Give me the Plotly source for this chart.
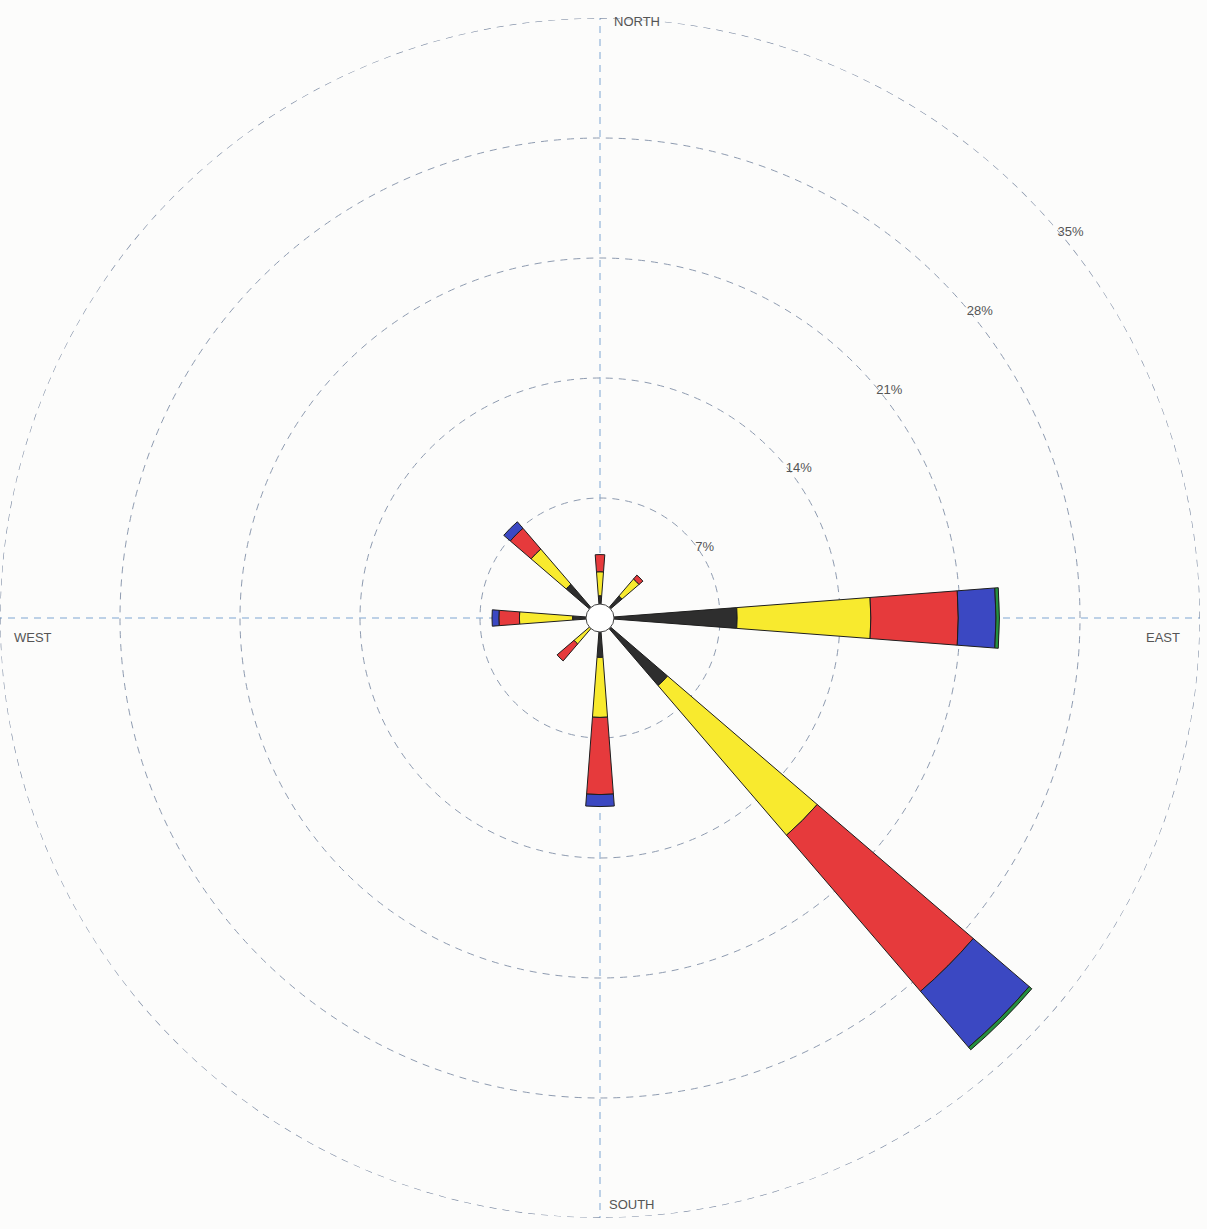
import plotly.graph_objects as go

directions = [0, 45, 90, 135, 180, 225, 270, 315]
bins = ["black", "yellow", "red", "blue", "green"]
black = [1.3, 1.7, 8.0, 5.2, 2.3, 0.8, 1.6, 2.6]
yellow = [1.4, 1.3, 7.8, 11.5, 3.5, 1.2, 3.1, 2.7]
red = [1.0, 0.3, 5.1, 12.0, 4.5, 1.3, 1.2, 1.6]
blue = [0, 0, 2.2, 4.3, 0.7, 0, 0.4, 0.5]
green = [0, 0, 0.2, 0.2, 0, 0, 0, 0]
series = [black, yellow, red, blue, green]
colors = ["#2e2e2e", "#f8ea2e", "#e63a3c", "#3b48c2", "#25903f"]

radial_ticks = [7, 14, 21, 28, 35]
radial_text = ["7%", "14%", "21%", "28%", "35%"]
compass_labels = ["NORTH", "EAST", "SOUTH", "WEST"]

W, H = 1207, 1229
CX, CY, R = 600, 618, 600
fig = go.Figure()
for vals, col in zip(series, colors):
    th = [d for d, v in zip(directions, vals) if v > 0]
    rr = [v for v in vals if v > 0]
    fig.add_trace(go.Barpolar(
        r=rr, theta=th, width=8.7,
        marker=dict(color=col, line=dict(color="#1e1e1e", width=1)),
        showlegend=False, hoverinfo="skip"))

# outermost dashed ring (35%)
ring_theta = list(range(0, 361))
fig.add_trace(go.Scatterpolar(
    r=[radial_ticks[-1]] * len(ring_theta), theta=ring_theta, mode="lines",
    line=dict(color="#7d8ba3", width=1.3, dash="7px,6px"),
    cliponaxis=False, showlegend=False, hoverinfo="skip"))

fig.update_layout(
    width=W, height=H,
    margin=dict(l=0, r=0, t=0, b=0),
    paper_bgcolor="#fcfcfb",
    polar=dict(
        domain=dict(x=[(CX - R) / W, (CX + R) / W],
                    y=[1 - (CY + R + 11) / H, 1 - (CY - R - 11) / H]),
        bgcolor="#fcfcfb",
        barmode="stack",
        radialaxis=dict(
            range=[0, 35], tickvals=radial_ticks, ticktext=radial_text,
            angle=41, tickangle=41, showline=False, ticks="",
            tickfont=dict(family="Liberation Sans", size=13, color="#555555"),
            gridcolor="#8e9bb0", gridwidth=1, griddash="7px,6px"),
        angularaxis=dict(
            rotation=90, direction="clockwise",
            tickvals=[0, 90, 180, 270], showticklabels=False, ticks="",
            showline=False,
            gridcolor="#7ea6d2", gridwidth=1, griddash="7px,6px"),
    ),
)

# calm circle at centre
rx, ry = 14 / W, 14 / H
cx, cy = CX / W, 1 - CY / H
fig.add_shape(type="circle", xref="paper", yref="paper",
              x0=cx - rx, x1=cx + rx, y0=cy - ry, y1=cy + ry,
              fillcolor="#ffffff", line=dict(color="#444444", width=1))

lab_font = dict(family="Liberation Sans", size=13, color="#555555")
pos = [(612 / W, 1 - 22 / H, "left"), (1163 / W, 1 - 637 / H, "center"),
       (607 / W, 1 - 1204 / H, "left"), (33 / W, 1 - 637 / H, "center")]
for text, (x, y, anc) in zip(compass_labels, pos):
    fig.add_annotation(x=x, y=y, xref="paper", yref="paper", text=text,
                       showarrow=False, xanchor=anc, yanchor="middle", font=lab_font)

fig.write_html("out.html")
